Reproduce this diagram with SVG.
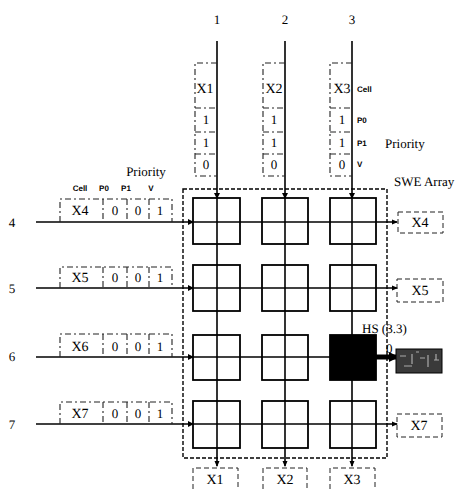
<svg xmlns="http://www.w3.org/2000/svg" width="468" height="489" viewBox="0 0 468 489">
<defs>
<marker id="ah" markerWidth="6" markerHeight="6" refX="5" refY="3" orient="auto" markerUnits="userSpaceOnUse">
<path d="M0,0.5 L6,3 L0,5.5 Z" fill="#000"/>
</marker>
<marker id="ahb" markerWidth="10" markerHeight="10" refX="8" refY="5" orient="auto" markerUnits="userSpaceOnUse">
<path d="M0,0 L10,5 L0,10 Z" fill="#000"/>
</marker>
</defs>
<style>
text{font-family:"Liberation Serif","Times New Roman",serif;fill:#000;text-rendering:geometricPrecision}
.t{font-size:14px}
.n{font-size:13px}
.s{font-size:8px;font-family:"Liberation Sans",Arial,sans-serif;font-weight:bold}
.ln{stroke:#000;stroke-width:1.6;fill:none}
.sq{stroke:#000;stroke-width:1.8;fill:#fff}
.db{stroke:#222;stroke-width:1.1;fill:none;stroke-dasharray:6 3 2 3}
.dv{stroke:#222;stroke-width:1;fill:none;stroke-dasharray:5 3}
.swe{stroke:#000;stroke-width:1.4;fill:none;stroke-dasharray:4 2}
</style>
<rect width="468" height="489" fill="#fff"/>

<g id="swe-array">
<rect class="swe" x="183" y="189" width="204" height="269"/>
<text class="n" x="394" y="186">SWE Array</text>
</g>

<g id="switch-elements">
<rect class="sq" x="193" y="198" width="47" height="46"/>
<rect class="sq" x="262" y="198" width="46" height="46"/>
<rect class="sq" x="330" y="198" width="46" height="46"/>
<rect class="sq" x="193" y="265" width="47" height="46"/>
<rect class="sq" x="262" y="265" width="46" height="46"/>
<rect class="sq" x="330" y="265" width="46" height="46"/>
<rect class="sq" x="193" y="335" width="47" height="45"/>
<rect class="sq" x="262" y="335" width="46" height="45"/>
<rect class="sq" x="193" y="401" width="47" height="47"/>
<rect class="sq" x="262" y="401" width="46" height="47"/>
<rect class="sq" x="330" y="401" width="46" height="47"/>
</g>

<g id="hs-33">
<rect x="330" y="335" width="46" height="45" fill="#000" stroke="#000" stroke-width="1.8"/>
<text class="n" x="362" y="333">HS (3.3)</text>
<text class="n" x="386" y="353">0</text>
</g>

<g id="connectors">
<line class="ln" x1="217" y1="41" x2="217" y2="466" marker-end="url(#ah)"/>
<line class="ln" x1="285" y1="41" x2="285" y2="466" marker-end="url(#ah)"/>
<line class="ln" x1="352" y1="41" x2="352" y2="466" marker-end="url(#ah)"/>
<line class="ln" x1="36" y1="222" x2="397" y2="222" marker-end="url(#ah)"/>
<line class="ln" x1="36" y1="288" x2="397" y2="288" marker-end="url(#ah)"/>
<line class="ln" x1="36" y1="357" x2="330" y2="357"/>
<line class="ln" x1="36" y1="424" x2="397" y2="424" marker-end="url(#ah)"/>
<line x1="376" y1="357" x2="397" y2="357" stroke="#000" stroke-width="5" marker-end="url(#ahb)"/>
<path d="M214,193 L217,199 L220,193 Z M282,193 L285,199 L288,193 Z M349,193 L352,199 L355,193 Z M188,219 L194,222 L188,225 Z M188,285 L194,288 L188,291 Z M188,354 L194,357 L188,360 Z M188,421 L194,424 L188,427 Z" fill="#000"/>
</g>

<g id="col-labels">
<text class="n" x="217" y="24" text-anchor="middle">1</text>
<text class="n" x="285" y="24" text-anchor="middle">2</text>
<text class="n" x="352" y="24" text-anchor="middle">3</text>
</g>
<g id="row-labels">
<text class="n" x="12" y="227" text-anchor="middle">4</text>
<text class="n" x="12" y="293" text-anchor="middle">5</text>
<text class="n" x="12" y="361" text-anchor="middle">6</text>
<text class="n" x="12" y="429" text-anchor="middle">7</text>
</g>

<g id="in-x1">
<path class="db" d="M217,63 H195 V176 H217 M195,108 H217 M195,132 H217 M195,154 H217"/>
<text class="t" x="205" y="93" text-anchor="middle">X1</text>
<text class="n" x="206" y="124" text-anchor="middle">1</text>
<text class="n" x="206" y="147" text-anchor="middle">1</text>
<text class="n" x="206" y="169" text-anchor="middle">0</text>
</g>
<g id="in-x2">
<path class="db" d="M285,63 H263 V176 H285 M263,108 H285 M263,132 H285 M263,154 H285"/>
<text class="t" x="274" y="93" text-anchor="middle">X2</text>
<text class="n" x="274" y="124" text-anchor="middle">1</text>
<text class="n" x="274" y="147" text-anchor="middle">1</text>
<text class="n" x="274" y="169" text-anchor="middle">0</text>
</g>
<g id="in-x3">
<path class="db" d="M352,63 H330 V176 H352 M330,108 H352 M330,132 H352 M330,154 H352"/>
<text class="t" x="342" y="93" text-anchor="middle">X3</text>
<text class="n" x="342" y="124" text-anchor="middle">1</text>
<text class="n" x="342" y="147" text-anchor="middle">1</text>
<text class="n" x="342" y="169" text-anchor="middle">0</text>
<text class="s" x="357" y="92">Cell</text>
<text class="s" x="357" y="123">P0</text>
<text class="s" x="357" y="146">P1</text>
<text class="s" x="357" y="167">V</text>
<text class="n" x="385" y="148">Priority</text>
</g>

<g id="in-x4">
<text class="n" x="146" y="176" text-anchor="middle">Priority</text>
<text class="s" x="80" y="191" text-anchor="middle">Cell</text>
<text class="s" x="104" y="191" text-anchor="middle">P0</text>
<text class="s" x="126" y="191" text-anchor="middle">P1</text>
<text class="s" x="151" y="191" text-anchor="middle">V</text>
<path class="db" d="M60,222 V199 H172 V222 M103,199 V222 M127,199 V222 M149,199 V222"/>
<text class="t" x="80" y="215" text-anchor="middle">X4</text>
<text class="n" x="115" y="215" text-anchor="middle">0</text>
<text class="n" x="138" y="215" text-anchor="middle">0</text>
<text class="n" x="160" y="215" text-anchor="middle">1</text>
</g>
<g id="in-x5">
<path class="db" d="M60,288 V267 H172 V288 M103,267 V288 M127,267 V288 M149,267 V288"/>
<text class="t" x="80" y="282" text-anchor="middle">X5</text>
<text class="n" x="115" y="282" text-anchor="middle">0</text>
<text class="n" x="138" y="282" text-anchor="middle">0</text>
<text class="n" x="160" y="282" text-anchor="middle">1</text>
</g>
<g id="in-x6">
<path class="db" d="M60,357 V334 H172 V357 M103,334 V357 M127,334 V357 M149,334 V357"/>
<text class="t" x="80" y="351" text-anchor="middle">X6</text>
<text class="n" x="115" y="351" text-anchor="middle">0</text>
<text class="n" x="138" y="351" text-anchor="middle">0</text>
<text class="n" x="160" y="351" text-anchor="middle">1</text>
</g>
<g id="in-x7">
<path class="db" d="M60,424 V402 H172 V424 M103,402 V424 M127,402 V424 M149,402 V424"/>
<text class="t" x="80" y="418" text-anchor="middle">X7</text>
<text class="n" x="115" y="418" text-anchor="middle">0</text>
<text class="n" x="138" y="418" text-anchor="middle">0</text>
<text class="n" x="160" y="418" text-anchor="middle">1</text>
</g>

<g id="out-x4">
<rect class="dv" x="398" y="212" width="45" height="21"/>
<text class="t" x="420" y="227" text-anchor="middle">X4</text>
</g>
<g id="out-x5">
<rect class="dv" x="397" y="279" width="46" height="23"/>
<text class="t" x="420" y="295" text-anchor="middle">X5</text>
</g>
<g id="out-hs">
<rect x="396" y="349" width="46" height="24" fill="#3a3a3a" stroke="#000" stroke-width="1"/>
<path d="M400,356 h6 M412,354 v10 M420,358 h5 M428,355 v12 M434,360 h5 M404,366 h8 M416,352 h3 M436,354 v6" stroke="#aaa" stroke-width="1.2"/>
</g>
<g id="out-x7">
<rect class="dv" x="397" y="414" width="45" height="23"/>
<text class="t" x="419" y="430" text-anchor="middle">X7</text>
</g>
<g id="out-x1">
<path class="dv" d="M193,489 V468 H238 V489"/>
<text class="t" x="215" y="484" text-anchor="middle">X1</text>
</g>
<g id="out-x2">
<path class="dv" d="M263,489 V468 H307 V489"/>
<text class="t" x="285" y="484" text-anchor="middle">X2</text>
</g>
<g id="out-x3">
<path class="dv" d="M330,489 V468 H375 V489"/>
<text class="t" x="352" y="484" text-anchor="middle">X3</text>
</g>
</svg>
